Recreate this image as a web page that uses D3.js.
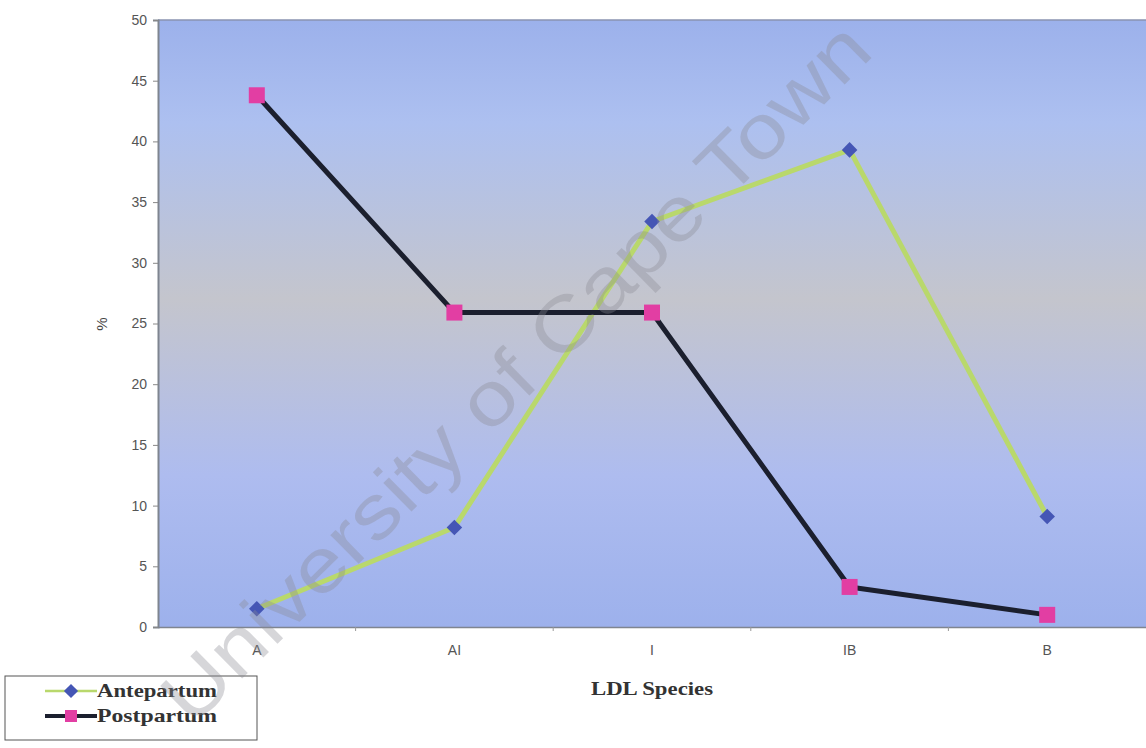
<!DOCTYPE html>
<html><head><meta charset="utf-8">
<script src="https://cdn.jsdelivr.net/npm/d3@7"></script>
<style>body{margin:0;background:#fff}svg{display:block}</style>
</head><body><svg id="c" width="1146" height="748"></svg>
<script>
const categories = ["A","AI","I","IB","B"];
const antepartum = [1.5, 8.2, 33.4, 39.3, 9.1];
const postpartum = [43.8, 25.9, 25.9, 3.3, 1.0];
const yTicks = [0,5,10,15,20,25,30,35,40,45,50];
const seriesNames = ["Antepartum","Postpartum"];

const svg = d3.select("#c");
const L=158, R=1146, T=20, B=627;
const x = d3.scaleBand().domain(categories).range([L,R]).padding(0);
const y = d3.scaleLinear().domain([0,50]).range([B,T]);

const defs = svg.append("defs");
const g = defs.append("linearGradient").attr("id","bg").attr("x1",0).attr("y1",0).attr("x2",0).attr("y2",1);
[[0,"#9cb1eb"],[0.17,"#adc0f0"],[0.46,"#c4c5cd"],[0.75,"#aebcef"],[1,"#9db1ec"]].forEach(([o,c])=>g.append("stop").attr("offset",o).attr("stop-color",c));

svg.append("rect").attr("x",L).attr("y",T).attr("width",R-L).attr("height",B-T).attr("fill","url(#bg)");
svg.append("line").attr("x1",L).attr("x2",R).attr("y1",T).attr("y2",T).attr("stroke","#8a93b0").attr("stroke-width",1.5);

// axes
const ya = svg.append("g").attr("transform",`translate(${L},0)`)
  .call(d3.axisLeft(y).tickValues(yTicks).tickSize(5).tickPadding(6));
ya.select(".domain").attr("stroke","#7f8590").attr("stroke-width",2);
ya.selectAll(".tick line").attr("stroke","#888");
ya.selectAll("text").attr("font-family","Liberation Sans, Arial, sans-serif").attr("font-size",14).attr("fill","#555");

const xa = svg.append("g").attr("transform",`translate(0,${B})`)
  .call(d3.axisBottom(x).tickSize(0).tickPadding(18));
xa.select(".domain").attr("stroke","#7f8590").attr("stroke-width",1.5);
xa.selectAll("text").attr("font-family","Liberation Sans, Arial, sans-serif").attr("font-size",14).attr("fill","#555");
categories.forEach((c,i)=>{ if(i>0) svg.append("line").attr("x1",x(c)).attr("x2",x(c)).attr("y1",B).attr("y2",B+4).attr("stroke","#999"); });

svg.append("text").attr("x",(L+R)/2).attr("y",695).attr("text-anchor","middle")
  .attr("font-family","Liberation Serif, Times New Roman, serif").attr("font-weight","bold").attr("font-size",19).attr("fill","#333")
  .attr("textLength",122).attr("lengthAdjust","spacingAndGlyphs").text("LDL Species");
svg.append("text").attr("transform","translate(107,324) rotate(-90)").attr("text-anchor","middle")
  .attr("font-family","Liberation Sans, Arial, sans-serif").attr("font-size",15).attr("fill","#444").text("%");

const cx = c => x(c) + x.bandwidth()/2;
const line = d3.line().x((d,i)=>cx(categories[i])).y(d=>y(d));

svg.append("path").datum(antepartum).attr("d",line).attr("fill","none").attr("stroke","#b9d86c").attr("stroke-width",5).attr("stroke-linejoin","round");
svg.append("path").datum(postpartum).attr("d",line).attr("fill","none").attr("stroke","#1b1f2e").attr("stroke-width",5).attr("stroke-linejoin","round");

svg.selectAll(".ad").data(antepartum).enter().append("rect")
  .attr("x",-5.5).attr("y",-5.5).attr("width",11).attr("height",11)
  .attr("transform",(d,i)=>`translate(${cx(categories[i])},${y(d)}) rotate(45)`).attr("fill","#4556b5");
svg.selectAll(".pd").data(postpartum).enter().append("rect")
  .attr("x",(d,i)=>cx(categories[i])-8).attr("y",d=>y(d)-8).attr("width",16).attr("height",16).attr("fill","#e23ea3");

// legend
const lg = svg.append("g");
lg.append("rect").attr("x",5).attr("y",676).attr("width",252).attr("height",64).attr("fill","#fff").attr("stroke","#555").attr("stroke-width",1);
const ly=[691,716];
const lcol=["#b9d86c","#1b1f2e"];
seriesNames.forEach((n,i)=>{
  lg.append("line").attr("x1",45).attr("x2",97).attr("y1",ly[i]).attr("y2",ly[i]).attr("stroke",lcol[i]).attr("stroke-width",i?4:2.5);
  if(i===0) lg.append("rect").attr("x",-5).attr("y",-5).attr("width",10).attr("height",10).attr("transform",`translate(71,${ly[i]}) rotate(45)`).attr("fill","#4556b5");
  else lg.append("rect").attr("x",65).attr("y",ly[i]-6).attr("width",12).attr("height",12).attr("fill","#e23ea3");
  lg.append("text").attr("x",97).attr("y",ly[i]+6).attr("font-family","Liberation Serif, Times New Roman, serif").attr("font-weight","bold").attr("font-size",19).attr("fill","#333")
    .attr("textLength",120).attr("lengthAdjust","spacingAndGlyphs").text(n);
});

// watermark
svg.append("text").attr("transform","translate(192,728) rotate(-44.6)")
  .attr("font-family","Liberation Sans, Arial, sans-serif").attr("font-size",76).attr("fill","#8a8a92").attr("fill-opacity",0.35)
  .attr("textLength",960).attr("lengthAdjust","spacingAndGlyphs").text("University of Cape Town");
</script></body></html>
